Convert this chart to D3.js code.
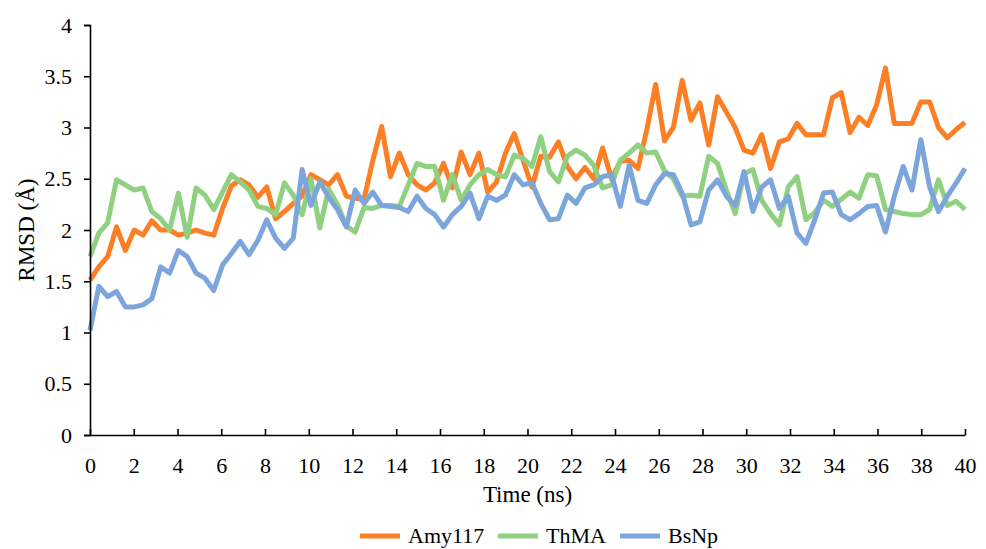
<!DOCTYPE html>
<html>
<head>
<meta charset="utf-8">
<script src="https://cdn.jsdelivr.net/npm/d3@7"></script>
<style>
  html, body { margin: 0; padding: 0; background: #fff; }
  svg { display: block; }
</style>
</head>
<body>
<script>
// RMSD (Å) over 40 ns, 100 samples per series
const sampleCount = 100;
const timeMax = 40;

const amy117 = [
  1.51, 1.64, 1.74, 2.03, 1.80, 2.00, 1.95, 2.09, 2.00, 2.00,
  1.95, 1.97, 2.00, 1.97, 1.95, 2.21, 2.43, 2.49, 2.44, 2.32,
  2.42, 2.11, 2.18, 2.26, 2.33, 2.54, 2.49, 2.44, 2.54, 2.33,
  2.31, 2.30, 2.68, 3.01, 2.52, 2.75, 2.54, 2.44, 2.39, 2.46,
  2.65, 2.41, 2.76, 2.54, 2.75, 2.37, 2.47, 2.75, 2.94, 2.68,
  2.42, 2.72, 2.71, 2.86, 2.62, 2.50, 2.61, 2.50, 2.80, 2.50,
  2.67, 2.68, 2.60, 2.98, 3.42, 2.87, 3.00, 3.46, 3.07, 3.24,
  2.83, 3.30, 3.15, 3.00, 2.78, 2.75, 2.93, 2.60, 2.86, 2.89,
  3.04, 2.93, 2.93, 2.93, 3.29, 3.34, 2.95, 3.10, 3.02, 3.22,
  3.58, 3.04, 3.04, 3.04, 3.25, 3.25, 3.00, 2.90, 2.98, 3.05
];

const thma = [
  1.74, 1.97, 2.07, 2.49, 2.44, 2.39, 2.41, 2.18, 2.11, 2.00,
  2.36, 1.93, 2.41, 2.34, 2.20, 2.37, 2.54, 2.47, 2.39, 2.23,
  2.21, 2.15, 2.46, 2.34, 2.15, 2.50, 2.02, 2.40, 2.25, 2.04,
  1.98, 2.22, 2.21, 2.24, 2.24, 2.23, 2.44, 2.65, 2.62, 2.62,
  2.29, 2.54, 2.29, 2.44, 2.54, 2.59, 2.54, 2.52, 2.73, 2.70,
  2.62, 2.91, 2.57, 2.47, 2.72, 2.78, 2.73, 2.63, 2.41, 2.44,
  2.68, 2.75, 2.83, 2.75, 2.76, 2.58, 2.50, 2.33, 2.34, 2.33,
  2.72, 2.65, 2.39, 2.16, 2.55, 2.59, 2.29, 2.16, 2.05, 2.42,
  2.52, 2.10, 2.17, 2.29, 2.23, 2.30, 2.37, 2.31, 2.54, 2.53,
  2.20, 2.18, 2.16, 2.15, 2.15, 2.20, 2.49, 2.24, 2.28, 2.20
];

const bsnp = [
  1.02, 1.45, 1.35, 1.40, 1.25, 1.25, 1.27, 1.33, 1.64, 1.58,
  1.80, 1.74, 1.58, 1.53, 1.41, 1.66, 1.77, 1.89, 1.76, 1.90,
  2.10, 1.92, 1.82, 1.92, 2.59, 2.24, 2.47, 2.32, 2.20, 2.03,
  2.39, 2.26, 2.37, 2.24, 2.23, 2.22, 2.18, 2.33, 2.21, 2.15,
  2.03, 2.15, 2.23, 2.36, 2.11, 2.33, 2.29, 2.34, 2.54, 2.44,
  2.46, 2.26, 2.10, 2.11, 2.34, 2.26, 2.41, 2.44, 2.52, 2.54,
  2.23, 2.63, 2.29, 2.26, 2.44, 2.55, 2.54, 2.36, 2.05, 2.08,
  2.39, 2.49, 2.33, 2.24, 2.57, 2.18, 2.42, 2.49, 2.21, 2.33,
  1.97, 1.87, 2.10, 2.36, 2.37, 2.15, 2.10, 2.16, 2.23, 2.24,
  1.98, 2.33, 2.62, 2.39, 2.88, 2.42, 2.18, 2.33, 2.46, 2.60
];

const seriesNames = ["Amy117", "ThMA", "BsNp"];
const seriesColors = ["#fd7f25", "#8fd081", "#7ca5dc"];
const xTicks = d3.range(0, 41, 2);
const yTicks = [0, 0.5, 1, 1.5, 2, 2.5, 3, 3.5, 4];

const width = 986;
const height = 549;
const margin = { top: 25, right: 21, bottom: 114, left: 90 };
const font = "'Liberation Serif', 'Times New Roman', serif";

const time = d3.range(sampleCount).map(i => i * timeMax / (sampleCount - 1));
const series = [amy117, thma, bsnp].map((vals, k) => ({
  name: seriesNames[k],
  color: seriesColors[k],
  points: vals.map((v, i) => ({ t: time[i], v }))
}));

const svg = d3.select("body").append("svg")
  .attr("width", width)
  .attr("height", height)
  .style("font-family", font);

const x = d3.scaleLinear()
  .domain([0, timeMax])
  .range([margin.left, width - margin.right]);

const y = d3.scaleLinear()
  .domain([0, 4])
  .range([height - margin.bottom, margin.top]);

// 折れ線
const line = d3.line()
  .x(d => x(d.t))
  .y(d => y(d.v));

svg.append("g")
  .selectAll("path")
  .data(series)
  .join("path")
  .attr("fill", "none")
  .attr("stroke", d => d.color)
  .attr("stroke-width", 5)
  .attr("stroke-linejoin", "round")
  .attr("d", d => line(d.points));

// Y軸
const yAxis = svg.append("g")
  .attr("transform", `translate(${margin.left},0)`)
  .call(d3.axisLeft(y).tickValues(yTicks).tickSize(6).tickPadding(12).tickFormat(d3.format("")));
yAxis.selectAll("path, line").attr("stroke", "#000").attr("stroke-width", 1.6);
yAxis.selectAll("text")
  .attr("font-size", 22)
  .attr("font-family", font)
  .attr("fill", "#000");

// X軸 (目盛りは内向き)
const xAxis = svg.append("g")
  .attr("transform", `translate(0,${y(0)})`)
  .call(d3.axisBottom(x).tickValues(xTicks).tickSizeInner(-6).tickSizeOuter(0).tickPadding(22));
xAxis.selectAll("path, line").attr("stroke", "#000").attr("stroke-width", 1.6);
xAxis.selectAll("text")
  .attr("font-size", 22)
  .attr("font-family", font)
  .attr("fill", "#000");

// 軸タイトル
svg.append("text")
  .attr("x", (x(0) + x(timeMax)) / 2)
  .attr("y", 502)
  .attr("text-anchor", "middle")
  .attr("font-size", 23)
  .text("Time (ns)");

svg.append("text")
  .attr("transform", `translate(34,${(y(0) + y(4)) / 2}) rotate(-90)`)
  .attr("text-anchor", "middle")
  .attr("font-size", 23)
  .text("RMSD (Å)");

// 凡例
const legendX = [360, 498, 620];
const legend = svg.append("g")
  .selectAll("g")
  .data(series)
  .join("g")
  .attr("transform", (d, i) => `translate(${legendX[i]},536)`);

legend.append("line")
  .attr("x1", 0).attr("x2", 40)
  .attr("stroke", d => d.color)
  .attr("stroke-width", 5);

legend.append("text")
  .attr("x", 48)
  .attr("y", 7)
  .attr("font-size", 22)
  .text(d => d.name);
</script>
</body>
</html>
